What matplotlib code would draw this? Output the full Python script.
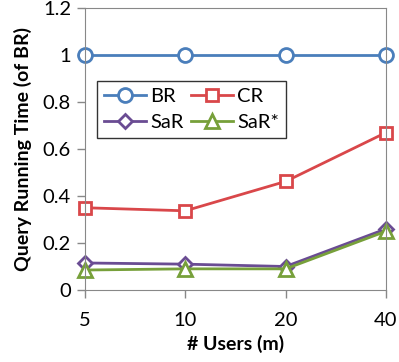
import matplotlib.pyplot as plt

users = ["5", "10", "20", "40"]
br = [1.0, 1.0, 1.0, 1.0]
cr = [0.35, 0.337, 0.462, 0.67]
sar = [0.115, 0.11, 0.1, 0.26]
sar_star = [0.085, 0.09, 0.09, 0.25]

plt.rcParams['font.family'] = ['Lato', 'DejaVu Sans']

fig = plt.figure(figsize=(3.99, 3.62), dpi=100)
ax = fig.add_axes([85/399, 72/362, 301/399, 282/362])

x = range(len(users))
h_br, = ax.plot(x, br, color='#4a7ebb', marker='o', ms=10, mfc='white', mew=2, lw=2, label="BR", clip_on=False)
h_cr, = ax.plot(x, cr, color='#d9474a', marker='s', ms=9, mfc='white', mew=2, lw=2, label="CR", clip_on=False)
h_sar, = ax.plot(x, sar, color='#6a4c93', marker='D', ms=7, mfc='white', mew=2, lw=2, label="SaR", clip_on=False)
h_ss, = ax.plot(x, sar_star, color='#77a03a', marker='^', ms=10, mfc='white', mew=2, lw=2, label="SaR*", clip_on=False)

ax.set_xlim(0, 3)
ax.set_ylim(0, 1.2)
ax.set_xticks(list(x))
ax.set_xticklabels(users)
ax.set_yticks([0, 0.2, 0.4, 0.6, 0.8, 1.0, 1.2])
ax.set_yticklabels(["0", "0.2", "0.4", "0.6", "0.8", "1", "1.2"])
ax.tick_params(labelsize=14.5, length=6, color='#888888', width=1, pad=4)
ax.tick_params(axis='x', pad=10)
for s in ax.spines.values():
    s.set_color('#888888')

ax.set_xlabel("# Users (m)", fontsize=14, fontweight='bold', labelpad=4)
ax.set_ylabel("Query Running Time (of BR)", fontsize=14, fontweight='bold', labelpad=8)

# row-major order like the original: BR, CR / SaR, SaR*
leg = ax.legend([h_br, h_sar, h_cr, h_ss], ["BR", "SaR", "CR", "SaR*"],
                ncol=2, loc='upper left', bbox_to_anchor=(0.04, 0.741), borderaxespad=0,
                fontsize=14.5, frameon=True, fancybox=False, edgecolor='black',
                handlelength=2.1, handletextpad=0.2, columnspacing=0.35,
                borderpad=0.35, labelspacing=0.45)
leg.get_frame().set_linewidth(1)

fig.savefig("out.png", dpi=100)
